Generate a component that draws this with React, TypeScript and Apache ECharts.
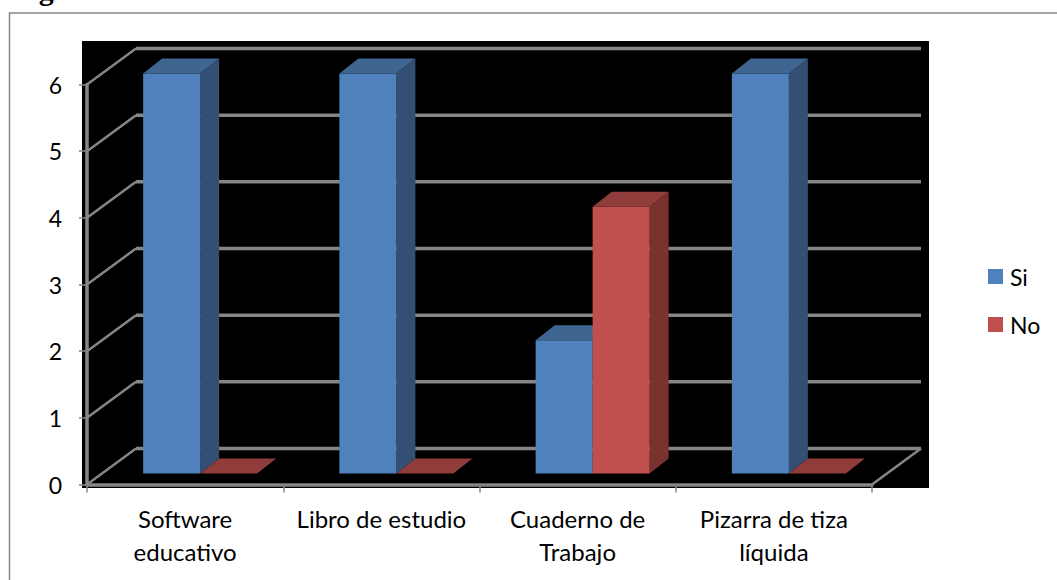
import React, { useEffect, useRef } from "react";
import * as echarts from "echarts";

const categories = ["Software\neducativo", "Libro de estudio", "Cuaderno de\nTrabajo", "Pizarra de tiza\nlíquida"];
const siValues = [6, 6, 2, 6];
const noValues = [0, 0, 4, 0];
const yTicks = [0, 1, 2, 3, 4, 5, 6];

const FONT = "Lato, Carlito, Calibri, sans-serif";
const WALL_DX = 49;
const WALL_DY = -36;
const BAR_W = 57;
const BAR_FRONT_DX = 15;
const BAR_FRONT_DY = -11;
const BAR_DEPTH_DX = 19;
const BAR_DEPTH_DY = -15;

const barRenderer = (offsetBars: number, front: string, top: string, side: string) => (params: any, api: any) => {
  const cat = api.value(0);
  const val = api.value(1);
  const base = api.coord([cat, 0]);
  const head = api.coord([cat, val]);
  const x0 = base[0] + offsetBars * BAR_W + BAR_FRONT_DX;
  const x1 = x0 + BAR_W;
  const yb = base[1] + BAR_FRONT_DY;
  const yt = head[1] + BAR_FRONT_DY;
  const dx = BAR_DEPTH_DX;
  const dy = BAR_DEPTH_DY;
  const children: any[] = [];
  if (val > 0) {
    children.push({
      type: "polygon",
      shape: { points: [[x1, yt], [x1 + dx, yt + dy], [x1 + dx, yb + dy], [x1, yb]] },
      style: { fill: side },
    });
    children.push({
      type: "rect",
      shape: { x: x0, y: yt, width: BAR_W, height: yb - yt },
      style: { fill: front },
    });
  }
  children.push({
    type: "polygon",
    shape: { points: [[x0, yt], [x0 + dx, yt + dy], [x1 + dx, yt + dy], [x1, yt]] },
    style: { fill: top },
  });
  return { type: "group", children };
};

const wallRenderer = (params: any, api: any) => {
  const v = api.value(0);
  const band = api.size([1, 0])[0];
  const first = api.coord([0, v]);
  const last = api.coord([categories.length - 1, v]);
  const x0 = first[0] - band / 2;
  const x1 = last[0] + band / 2;
  const y = first[1];
  const bx = x0 + WALL_DX;
  const by = y + WALL_DY;
  const ex = x1 + WALL_DX;
  const stroke = "#868686";
  const children: any[] = [
    { type: "line", shape: { x1: x0, y1: y, x2: bx, y2: by }, style: { stroke, lineWidth: 2.5 } },
    { type: "line", shape: { x1: bx, y1: by, x2: ex, y2: by }, style: { stroke, lineWidth: 3.5 } },
  ];
  if (v === 0) {
    children.push({ type: "line", shape: { x1, y1: y, x2: ex, y2: by }, style: { stroke, lineWidth: 2.5 } });
  }
  return { type: "group", children };
};

export default function App() {
  const ref = useRef<HTMLDivElement>(null);
  useEffect(() => {
    const chart = echarts.init(ref.current!, undefined, { renderer: "svg" });
    chart.setOption({
      animation: false,
      backgroundColor: "#ffffff",
      textStyle: { fontFamily: FONT },
      grid: { left: 87, top: 84.5, width: 785, height: 400 },
      graphic: [
        { type: "rect", z: 0, shape: { x: 9.5, y: 13, width: 1100, height: 600 }, style: { fill: "#fff", stroke: "#868686", lineWidth: 1.5 } },
        { type: "rect", z: 0, shape: { x: 82, y: 41, width: 847, height: 447 }, style: { fill: "#000" } },
        { type: "text", z: 1, x: 12, y: -26, style: { text: "Figura  3:", fill: "#000", font: "bold 30px 'Liberation Serif', serif" } },
      ],
      legend: {
        orient: "vertical",
        left: 988,
        top: 265,
        padding: 0,
        itemWidth: 15,
        itemHeight: 15,
        itemGap: 25,
        data: [
          { name: "Si", icon: "rect", itemStyle: { color: "#4F81BD" } },
          { name: "No", icon: "rect", itemStyle: { color: "#C0504D" } },
        ],
        textStyle: { fontSize: 23, lineHeight: 15, color: "#000", fontFamily: FONT, padding: [2, 0, 0, 2] },
      },
      xAxis: {
        type: "category",
        data: categories,
        boundaryGap: true,
        axisLine: { show: true, lineStyle: { color: "#868686", width: 3.5 } },
        axisTick: { show: true, alignWithLabel: false, length: 8, lineStyle: { color: "#868686", width: 1.5 } },
        axisLabel: { color: "#000", fontSize: 24, fontFamily: FONT, margin: 17, lineHeight: 33, interval: 0 },
        z: 3,
      },
      yAxis: {
        type: "value",
        min: yTicks[0],
        max: yTicks[yTicks.length - 1],
        interval: 1,
        axisLine: { show: true, lineStyle: { color: "#868686", width: 3.5 } },
        axisTick: { show: true, length: 8, lineStyle: { color: "#868686", width: 1.5 } },
        axisLabel: { color: "#000", fontSize: 23, fontFamily: FONT, margin: 25, padding: [4, 0, 0, 0] },
        splitLine: { show: false },
        z: 3,
      },
      series: [
        {
          name: "Pared",
          type: "custom",
          renderItem: wallRenderer,
          data: yTicks.map((v) => [v]),
          encode: { y: 0 },
          clip: false,
          silent: true,
          z: 2,
        },
        {
          name: "Si",
          type: "custom",
          renderItem: barRenderer(-1, "#4F81BD", "#3F6690", "#334F73"),
          itemStyle: { color: "#4F81BD" },
          data: siValues.map((v, i) => [i, v]),
          encode: { x: 0, y: 1 },
          clip: false,
          z: 4,
        },
        {
          name: "No",
          type: "custom",
          renderItem: barRenderer(0, "#C0504D", "#8F3C3A", "#7A3230"),
          itemStyle: { color: "#C0504D" },
          data: noValues.map((v, i) => [i, v]),
          encode: { x: 0, y: 1 },
          clip: false,
          z: 5,
        },
      ],
    });
    return () => chart.dispose();
  }, []);
  return <div ref={ref} style={{ position: "fixed", left: 0, top: 0, width: 1057, height: 580 }} />;
}
